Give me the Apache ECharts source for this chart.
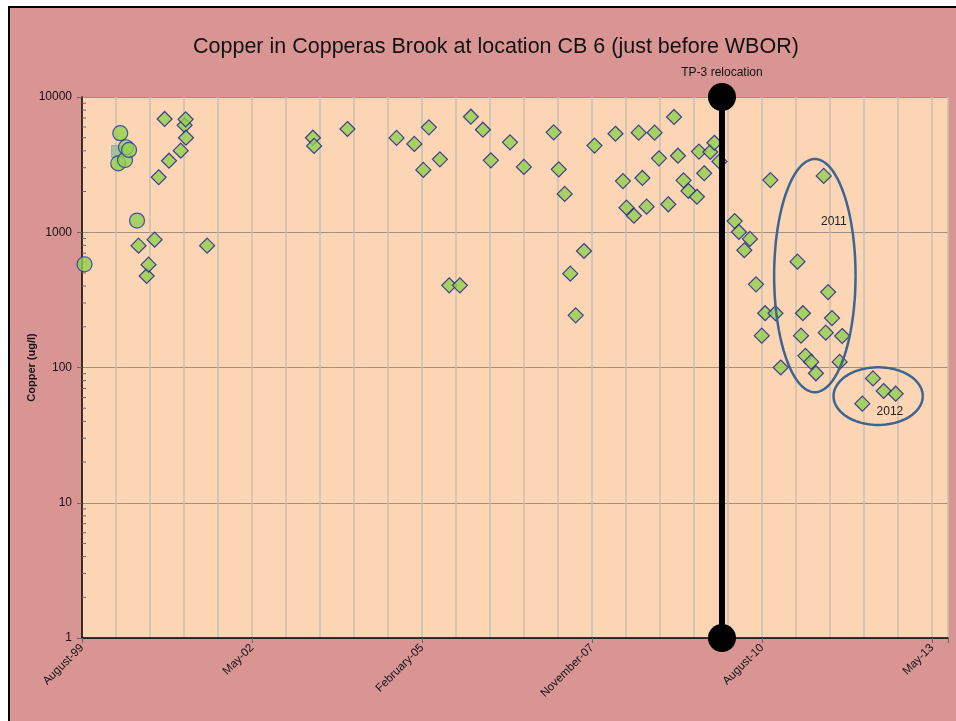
<!DOCTYPE html>
<html>
<head>
<meta charset="utf-8">
<script src="https://cdn.jsdelivr.net/npm/echarts@6/dist/echarts.min.js"></script>
<style>
  html, body { margin: 0; padding: 0; background: #fff; }
  #main { width: 956px; height: 721px; }
</style>
</head>
<body>
<div id="main"></div>
<script>
// sample dates (yyyy-mm-dd) and copper (ug/l)
const circleSamples = [
  ['1999-08-30', 580], ['2000-03-16', 3230], ['2000-03-28', 5400],
  ['2000-04-25', 3420], ['2000-05-01', 4250], ['2000-05-19', 4060],
  ['2000-07-05', 1220]
]
const squareSamples = [['2000-03-12', 3950]]
const diamondSamples = [
  ['2000-07-14', 796], ['2000-08-31', 475], ['2000-09-11', 576], ['2000-10-17', 881],
  ['2000-11-10', 2550], ['2000-12-15', 6880], ['2001-01-10', 3380], ['2001-03-20', 4010],
  ['2001-04-12', 6180], ['2001-04-18', 6840], ['2001-04-20', 5000], ['2001-08-23', 796],
  ['2003-05-10', 5000], ['2003-05-17', 4350], ['2003-11-30', 5800], ['2004-09-15', 4980],
  ['2004-12-29', 4500], ['2005-02-20', 2890], ['2005-03-25', 5970], ['2005-05-29', 3460],
  ['2005-07-23', 405], ['2005-09-24', 405], ['2005-11-28', 7150], ['2006-02-07', 5730],
  ['2006-03-26', 3400], ['2006-07-17', 4620], ['2006-10-07', 3040], ['2007-04-01', 5480],
  ['2007-05-01', 2920], ['2007-06-05', 1920], ['2007-07-08', 494], ['2007-08-09', 243],
  ['2007-09-27', 727], ['2007-11-28', 4370], ['2008-03-31', 5350], ['2008-05-14', 2390],
  ['2008-06-04', 1520], ['2008-07-18', 1325], ['2008-08-15', 5450], ['2008-09-06', 2520],
  ['2008-10-01', 1545], ['2008-11-17', 5450], ['2008-12-13', 3520], ['2009-02-06', 1610],
  ['2009-03-12', 7120], ['2009-04-04', 3680], ['2009-05-07', 2420], ['2009-06-05', 2020],
  ['2009-07-25', 1830], ['2009-08-06', 3950], ['2009-09-06', 2730], ['2009-10-12', 3920],
  ['2009-11-05', 4590], ['2009-12-05', 3340], ['2010-03-05', 1210], ['2010-03-30', 1005],
  ['2010-05-01', 736], ['2010-06-03', 893], ['2010-07-09', 412], ['2010-08-12', 172],
  ['2010-09-01', 252], ['2010-10-02', 2430], ['2010-11-01', 252], ['2010-12-02', 100],
  ['2011-03-11', 606], ['2011-04-01', 172], ['2011-04-12', 252], ['2011-04-27', 122],
  ['2011-05-31', 110], ['2011-06-28', 90.6], ['2011-08-13', 2610], ['2011-08-25', 181],
  ['2011-09-08', 361], ['2011-10-01', 232], ['2011-11-15', 110], ['2011-11-30', 171],
  ['2012-03-28', 54], ['2012-05-30', 83], ['2012-08-01', 67], ['2012-10-11', 64]
]

const tpDate = '2009-12-20'
const tpLabel = 'TP-3 relocation'

// circled groups: left/right date, top/bottom value, label spot
const groupRings = [
  { text: '2011', left: '2010-10-24', right: '2012-02-17', top: 3480, bottom: 65.6, at: ['2011-10-12', 1190] },
  { text: '2012', left: '2011-10-10', right: '2013-03-20', top: 100.4, bottom: 37.6, at: ['2012-09-07', 46.9] }
]

const xTickLabels = ['August-99', 'May-02', 'February-05', 'November-07', 'August-10', 'May-13']

const DAY = 86400000
const xMin = Date.UTC(1999, 7, 15)
const xStep = 1004 * DAY
const xMax = xMin + 5115 * DAY

const toPts = arr => arr.map(d => [Date.parse(d[0]), d[1]])

const yMinor = []
;[1, 10, 100, 1000].forEach(p => { for (let k = 2; k < 10; k++) yMinor.push(k * p) })

const font = '"Liberation Sans", Arial, sans-serif'
const green = '#92D050'
const navy = '#1A1A8C'

const chart = echarts.init(document.getElementById('main'))

chart.setOption({
  backgroundColor: '#fff',
  animation: false,
  title: {
    text: 'Copper in Copperas Brook at location CB 6 (just before WBOR)',
    left: 188,
    top: 31,
    textStyle: { fontFamily: font, fontSize: 21.5, fontWeight: 'normal', color: '#111' }
  },
  graphic: [{
    type: 'rect',
    z: -10,
    silent: true,
    shape: { x: 9, y: 7, width: 960, height: 730 },
    style: { fill: '#D99594', stroke: '#000', lineWidth: 2 }
  }],
  grid: {
    left: 82, top: 97, right: 8, bottom: 83,
    show: true, backgroundColor: '#FCD5B5', borderWidth: 0
  },
  xAxis: [{
    type: 'value',
    min: xMin, max: xMax, interval: xStep,
    axisLine: { lineStyle: { color: '#000', width: 1.5 } },
    axisTick: { show: true, length: 5, lineStyle: { color: '#666' } },
    splitLine: { show: false },
    axisLabel: {
      rotate: 45, margin: 8, fontFamily: font, fontSize: 11.5, color: '#111',
      formatter: v => {
        const k = (v - xMin) / xStep
        if (Math.abs(k - Math.round(k)) > 1e-6) return ''
        return xTickLabels[Math.round(k)] || ''
      }
    }
  }, {
    // vertical gridlines only
    type: 'value', position: 'top',
    min: xMin, max: xMax, interval: xStep / 5,
    axisLine: { show: false }, axisTick: { show: false }, axisLabel: { show: false },
    splitLine: { show: true, lineStyle: { color: '#CBBFB5', width: 1.5 } }
  }],
  yAxis: {
    type: 'log', logBase: 10, min: 1, max: 10000,
    name: 'Copper (ug/l)', nameLocation: 'middle', nameGap: 45, nameRotate: 90,
    nameMoveOverlap: false,
    nameTextStyle: { fontFamily: font, fontSize: 11, fontWeight: 'bold', color: '#111' },
    axisLine: { show: true, lineStyle: { color: '#000', width: 1.5 } },
    axisTick: { show: true, length: 5, lineStyle: { color: '#666' } },
    splitLine: { show: true, lineStyle: { color: '#A08F80', width: 1 } },
    axisLabel: { margin: 10, fontFamily: font, fontSize: 12, color: '#111', formatter: v => String(v) }
  },
  series: [
    {
      type: 'custom',
      xAxisIndex: 0,
      silent: true,
      clip: false,
      data: yMinor.map(v => [xMin, v]),
      renderItem: (params, api) => {
        const p = api.coord([api.value(0), api.value(1)])
        return { type: 'line', shape: { x1: p[0], y1: p[1], x2: p[0] + 4, y2: p[1] },
          style: { stroke: '#666', lineWidth: 1 } }
      }
    },
    {
      type: 'scatter', xAxisIndex: 0, symbol: 'rect', symbolSize: 12,
      itemStyle: { color: '#8DBB96', borderColor: '#7FA6B8', borderWidth: 1 },
      data: toPts(squareSamples)
    },
    {
      type: 'scatter', xAxisIndex: 0, symbol: 'circle', symbolSize: 15,
      itemStyle: { color: green, borderColor: '#2030A0', borderWidth: 1.2 },
      data: toPts(circleSamples)
    },
    {
      type: 'scatter', xAxisIndex: 0, symbol: 'diamond', symbolSize: [15, 15],
      itemStyle: { color: green, borderColor: navy, borderWidth: 1.2 },
      data: toPts(diamondSamples)
    },
    {
      type: 'line', xAxisIndex: 0, z: 5, clip: false,
      symbol: 'circle', symbolSize: 28,
      itemStyle: { color: '#000' },
      lineStyle: { color: '#000', width: 6 },
      data: [
        [Date.parse(tpDate), 1],
        { value: [Date.parse(tpDate), 10000],
          label: { show: true, position: 'top', distance: 4, formatter: tpLabel,
            fontFamily: font, fontSize: 12, color: '#111' } }
      ]
    },
    {
      type: 'custom', xAxisIndex: 0, silent: true, clip: false, z: 4,
      data: groupRings.map(g => [Date.parse(g.left), g.top]),
      renderItem: (params, api) => {
        const g = groupRings[params.dataIndex]
        const a = api.coord([Date.parse(g.left), g.top])
        const b = api.coord([Date.parse(g.right), g.bottom])
        const t = api.coord([Date.parse(g.at[0]), g.at[1]])
        const cx = (a[0] + b[0]) / 2, cy = (a[1] + b[1]) / 2
        const rx = (b[0] - a[0]) / 2, ry = (b[1] - a[1]) / 2
        const pts = []
        for (let i = 0; i <= 90; i++) {
          const th = i / 90 * Math.PI * 2
          pts.push([cx + rx * Math.cos(th), cy + ry * Math.sin(th)])
        }
        return {
          type: 'group',
          children: [
            { type: 'polyline', shape: { points: pts },
              style: { fill: null, stroke: '#3E6591', lineWidth: 2.5 } },
            { type: 'text', x: t[0], y: t[1],
              style: { text: g.text, fill: '#222', font: '12px ' + font, align: 'center', verticalAlign: 'middle' } }
          ]
        }
      }
    }
  ]
})
</script>
</body>
</html>
